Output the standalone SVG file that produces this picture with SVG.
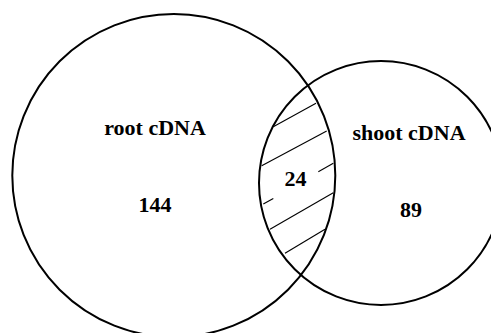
<svg xmlns="http://www.w3.org/2000/svg" width="491" height="333" viewBox="0 0 491 333">
<style>
.c{fill:none;stroke:#000;stroke-width:2}
.h{stroke:#000;stroke-width:1.1;fill:none}
.t{font-family:"Liberation Serif","Times New Roman",serif;font-weight:bold;font-size:22px;fill:#000;text-anchor:middle}
</style>
<rect width="491" height="333" fill="#fff"/>
<g id="hatch">
<line class="h" x1="273.3" y1="126.7" x2="316" y2="103.3"/>
<line class="h" x1="261.7" y1="165.7" x2="326.7" y2="131"/>
<line class="h" x1="263.3" y1="204" x2="273.3" y2="198.5"/>
<line class="h" x1="318.3" y1="171.7" x2="333.3" y2="163.3"/>
<line class="h" x1="270" y1="229.3" x2="333.3" y2="192.7"/>
<line class="h" x1="285" y1="253.3" x2="325" y2="229.3"/>
</g>
<g id="root">
<circle class="c" cx="173.8" cy="175.5" r="161.5"/>
<text class="t" x="155" y="135">root cDNA</text>
<text class="t" x="155" y="211.7">144</text>
</g>
<g id="shoot">
<circle class="c" cx="381" cy="183" r="122"/>
<text class="t" x="409" y="140">shoot cDNA</text>
<text class="t" x="411" y="216.7">89</text>
</g>
<g id="overlap">
<text class="t" x="295.5" y="185.7">24</text>
</g>
</svg>
